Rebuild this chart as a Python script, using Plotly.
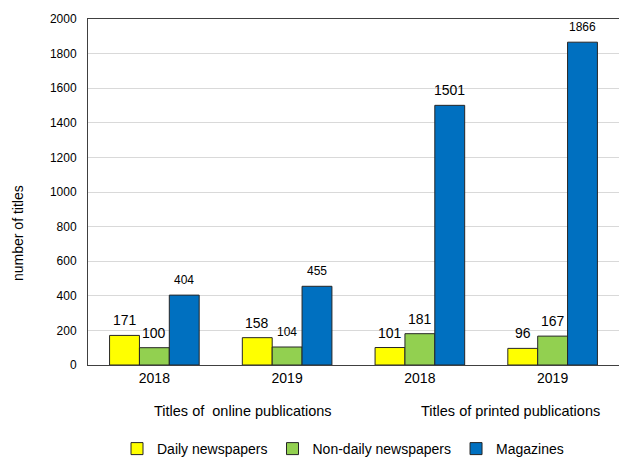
import plotly.graph_objects as go

years = ["2018", "2019", "2018", "2019"]
group_labels = ["Titles of  online publications", "Titles of printed publications"]
series_names = ["Daily newspapers", "Non-daily newspapers", "Magazines"]
daily = [171, 158, 101, 96]
nondaily = [100, 104, 181, 167]
magazines = [404, 455, 1501, 1866]
y_ticks = [0, 200, 400, 600, 800, 1000, 1200, 1400, 1600, 1800, 2000]
y_title = "number of titles"

# styling
colors = ["#FFFF00", "#92D050", "#0070C0"]
label_sizes = [[14, 14, 14, 14], [14, 12, 14, 14], [12, 12, 14, 12]]
FONT = "Liberation Sans"
bar_w = 0.225
PW, PH, L, T = 531, 346, 88, 19

def px(x):
    return (x - L) / PW

def py(y):
    return (T + PH - y) / PH

fig = go.Figure()
xs = list(range(len(years)))
values = [daily, nondaily, magazines]
for j, (name, vals, col) in enumerate(zip(series_names, values, colors)):
    fig.add_trace(go.Bar(
        x=xs, y=vals, name=name, width=bar_w, offset=(j - 1.5) * bar_w,
        marker=dict(color=col, line=dict(color="#262626", width=1)),
    ))
    for i, v in enumerate(vals):
        fig.add_annotation(
            x=i + (j - 1) * bar_w, y=v, xref="x", yref="y",
            text=str(v), showarrow=False, yanchor="middle", yshift=15,
            font=dict(size=label_sizes[j][i], color="#000000", family=FONT),
        )

for gx, g in zip([243, 510], group_labels):
    fig.add_annotation(x=px(gx), y=py(411), xref="paper", yref="paper", text=g,
                       showarrow=False, font=dict(size=14.5, color="#000", family=FONT),
                       xanchor="center", yanchor="middle")

fig.add_annotation(x=px(18), y=py(233), xref="paper", yref="paper", text=y_title,
                   textangle=-90, showarrow=False, xanchor="center", yanchor="middle",
                   font=dict(size=14, color="#000", family=FONT))

fig.update_layout(
    width=619, height=457,
    margin=dict(l=L, r=0, t=T, b=457 - T - PH, autoexpand=False),
    paper_bgcolor="white", plot_bgcolor="white",
    font=dict(family=FONT, color="#000"),
    barmode="overlay",
    showlegend=True,
    legend=dict(orientation="h", x=px(343), xanchor="center",
                y=py(449), yanchor="middle",
                font=dict(size=14, family=FONT, color="#000"),
                itemwidth=30, traceorder="normal"),
    xaxis=dict(
        range=[-0.5, 3.5], tickmode="array", tickvals=xs, ticktext=years,
        showline=True, linecolor="#404040", linewidth=1, mirror=True,
        showgrid=False, ticks="", tickfont=dict(size=14, family=FONT, color="#000"),
        zeroline=False, automargin=False,
    ),
    yaxis=dict(
        range=[0, 2000], tickmode="array", tickvals=y_ticks,
        showline=True, linecolor="#404040", linewidth=1,
        showgrid=True, gridcolor="#D9D9D9", gridwidth=1,
        ticks="", tickfont=dict(size=12, family=FONT, color="#000"),
        ticklabelstandoff=8,
        zeroline=False, automargin=False,
    ),
)

fig.write_html("out.html", config={"displayModeBar": False},
               post_script="document.body.style.margin='0px';document.body.style.overflow='hidden';")
